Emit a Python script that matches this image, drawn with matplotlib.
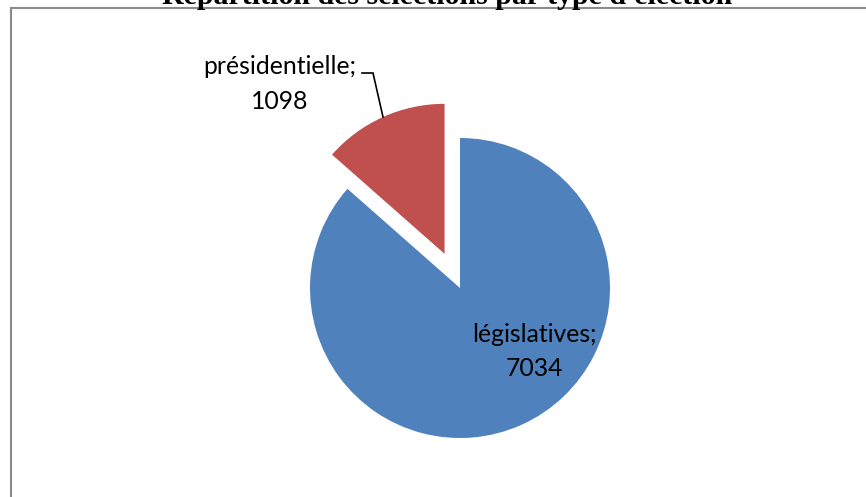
import matplotlib
matplotlib.use("Agg")
import matplotlib.pyplot as plt
from matplotlib.patches import Rectangle

categories = ["législatives", "présidentielle"]
values = [7034, 1098]
colors = ["#4F81BD", "#C0504D"]
title = "Répartition des sélections par type d'élection"

W, H = 866, 497
fig = plt.figure(figsize=(W / 100, H / 100), dpi=100)
ax = fig.add_axes([0, 0, 1, 1])

# chart frame (extends past right/bottom edges)
ax.add_patch(Rectangle((10.5, -20), W + 40, H - 7.5 + 20, fill=False,
                       edgecolor="#8a8a8a", linewidth=1.5))

cx, cy, r = 460, H - 288, 150
wedges, _ = ax.pie(values, colors=colors, startangle=90, counterclock=False,
                   center=(cx, cy), radius=r, explode=[0, 37.5],
                   wedgeprops=dict(linewidth=0), frame=True)
ax.set_xlim(0, W)
ax.set_ylim(0, H)
ax.set_aspect("auto")
ax.axis("off")

font = ["Lato", "DejaVu Sans"]
fs = 17.8
ax.text(534, H - 351.5, f"{categories[0]};\n{values[0]}", ha="center", va="center",
        fontsize=fs, family=font, linespacing=1.6, color="#000000")
ax.text(280, H - 84, f"{categories[1]};\n{values[1]}", ha="center", va="center",
        fontsize=fs, family=font, linespacing=1.6, color="#000000")
ax.plot([362, 373, 383], [H - 73, H - 73, H - 117], color="black", linewidth=1.2,
        solid_joinstyle="miter")

fig.text(447 / W, 1 - 4 / H, title, ha="center", va="baseline",
         fontsize=21.5, family=["Liberation Serif"], fontweight="bold")

fig.savefig("out.png", dpi=100)
